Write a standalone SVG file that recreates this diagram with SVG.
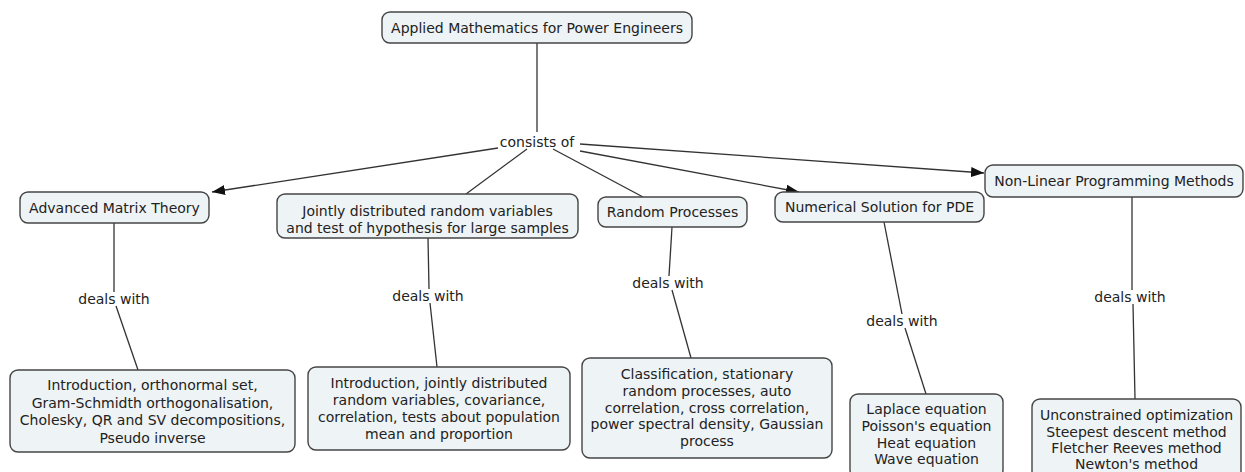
<svg xmlns="http://www.w3.org/2000/svg" width="1245" height="472" viewBox="0 0 1245 472">
  <style>
    .box { fill: #eef3f5; stroke: #454545; stroke-width: 1.4; }
    .t { font-family: "DejaVu Sans", Verdana, sans-serif; font-size: 14px; fill: #222; text-anchor: middle; }
    .lnk { stroke: #333; stroke-width: 1.3; fill: none; }
    .arr { marker-end: url(#head); }
  </style>
  <defs>
    <marker id="head" markerUnits="userSpaceOnUse" markerWidth="14" markerHeight="12" refX="13" refY="5" orient="auto">
      <path d="M0,0 L13,5 L0,10 Z" fill="#111"/>
    </marker>
  </defs>
  <rect width="1245" height="472" fill="#ffffff"/>

  <!-- links between concepts -->
  <g id="connectors">
    <line class="lnk" x1="537" y1="43" x2="537" y2="132"/>
    <text class="t" x="537" y="147">consists of</text>
    <line class="lnk arr" x1="498" y1="148" x2="212" y2="192"/>
    <line class="lnk" x1="527" y1="149" x2="466" y2="194"/>
    <line class="lnk" x1="553" y1="149" x2="643" y2="197"/>
    <line class="lnk arr" x1="580" y1="151" x2="799" y2="192"/>
    <line class="lnk arr" x1="580" y1="144" x2="984" y2="173"/>

    <line class="lnk" x1="114" y1="223" x2="114" y2="292"/>
    <text class="t" x="114" y="304">deals with</text>
    <line class="lnk" x1="116" y1="306" x2="138" y2="370"/>

    <line class="lnk" x1="428" y1="238" x2="429" y2="289"/>
    <text class="t" x="428" y="301">deals with</text>
    <line class="lnk" x1="430" y1="303" x2="437" y2="367"/>

    <line class="lnk" x1="672" y1="227" x2="669" y2="276"/>
    <text class="t" x="668" y="288">deals with</text>
    <line class="lnk" x1="672" y1="290" x2="691" y2="358"/>

    <line class="lnk" x1="884" y1="222" x2="902" y2="314"/>
    <text class="t" x="902" y="326">deals with</text>
    <line class="lnk" x1="905" y1="328" x2="926" y2="394"/>

    <line class="lnk" x1="1132" y1="197" x2="1132" y2="290"/>
    <text class="t" x="1130" y="302">deals with</text>
    <line class="lnk" x1="1133" y1="304" x2="1135" y2="399"/>
  </g>

  <g id="root">
    <rect class="box" x="382" y="12" width="310" height="31" rx="8"/>
    <text class="t" x="537" y="32.5">Applied Mathematics for Power Engineers</text>
  </g>

  <g id="matrix">
    <rect class="box" x="20" y="192" width="189" height="31" rx="8"/>
    <text class="t" x="114.5" y="212.5">Advanced Matrix Theory</text>
  </g>

  <g id="jointly">
    <rect class="box" x="277" y="194" width="301" height="44" rx="8"/>
    <text class="t" x="427.5" y="215.5">Jointly distributed random variables</text>
    <text class="t" x="427.5" y="232.5">and test of hypothesis for large samples</text>
  </g>

  <g id="random">
    <rect class="box" x="598" y="197" width="149" height="30" rx="8"/>
    <text class="t" x="672.5" y="217">Random Processes</text>
  </g>

  <g id="pde">
    <rect class="box" x="775" y="192" width="209" height="30" rx="8"/>
    <text class="t" x="879.5" y="212">Numerical Solution for PDE</text>
  </g>

  <g id="nonlinear">
    <rect class="box" x="985" y="165" width="258" height="32" rx="8"/>
    <text class="t" x="1114" y="186">Non-Linear Programming Methods</text>
  </g>

  <g id="matrix-topics">
    <rect class="box" x="10" y="370" width="285" height="82" rx="8"/>
    <text class="t" x="152.5" y="390">Introduction, orthonormal set,</text>
    <text class="t" x="152.5" y="407.5">Gram-Schmidth orthogonalisation,</text>
    <text class="t" x="152.5" y="425">Cholesky, QR and SV decompositions,</text>
    <text class="t" x="152.5" y="442.5">Pseudo inverse</text>
  </g>

  <g id="jointly-topics">
    <rect class="box" x="308" y="367" width="262" height="83" rx="8"/>
    <text class="t" x="439" y="387.5">Introduction, jointly distributed</text>
    <text class="t" x="439" y="405">random variables, covariance,</text>
    <text class="t" x="439" y="422">correlation, tests about population</text>
    <text class="t" x="439" y="438.5">mean and proportion</text>
  </g>

  <g id="random-topics">
    <rect class="box" x="582" y="358" width="250" height="100" rx="8"/>
    <text class="t" x="707" y="378.5">Classification, stationary</text>
    <text class="t" x="707" y="395.5">random processes, auto</text>
    <text class="t" x="707" y="412.5">correlation, cross correlation,</text>
    <text class="t" x="707" y="429">power spectral density, Gaussian</text>
    <text class="t" x="707" y="445.5">process</text>
  </g>

  <g id="pde-topics">
    <rect class="box" x="850" y="394" width="153" height="84" rx="8"/>
    <text class="t" x="926.5" y="414">Laplace equation</text>
    <text class="t" x="926.5" y="431">Poisson's equation</text>
    <text class="t" x="926.5" y="447.5">Heat equation</text>
    <text class="t" x="926.5" y="464">Wave equation</text>
  </g>

  <g id="nonlinear-topics">
    <rect class="box" x="1032" y="399" width="209" height="80" rx="8"/>
    <text class="t" x="1136.5" y="420">Unconstrained optimization</text>
    <text class="t" x="1136.5" y="437">Steepest descent method</text>
    <text class="t" x="1136.5" y="453">Fletcher Reeves method</text>
    <text class="t" x="1136.5" y="469">Newton's method</text>
  </g>
</svg>
